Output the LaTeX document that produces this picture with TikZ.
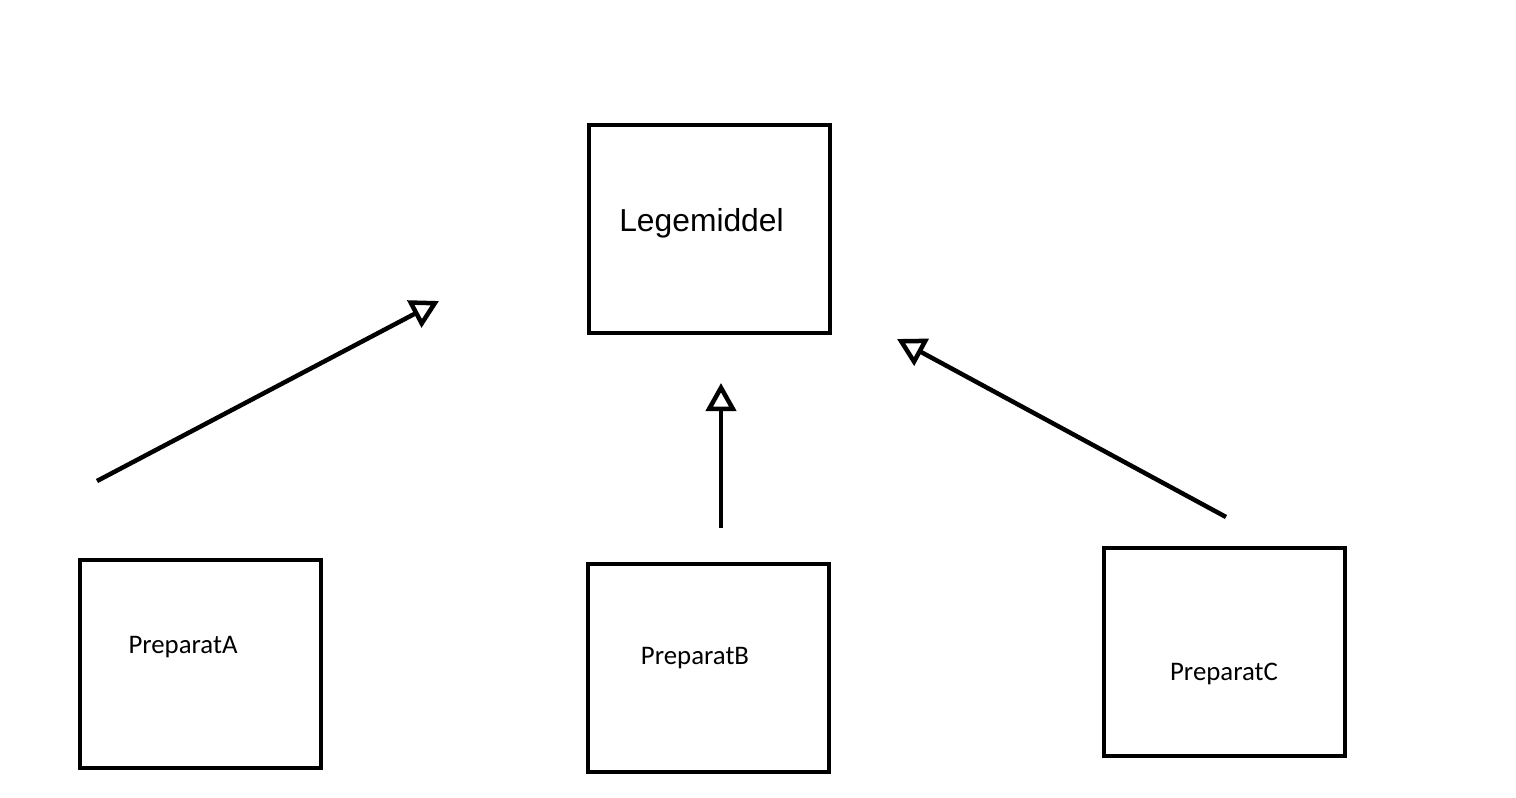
\documentclass[tikz,border=0pt]{standalone}
\usepackage{fontspec}
\setmainfont{Liberation Sans}
\newfontfamily\calfont{Carlito}
\usetikzlibrary{arrows.meta}
\begin{document}
\begin{tikzpicture}[x=1pt,y=-1pt,
  box/.style={draw=black,line width=4.5pt,minimum width=241pt,minimum height=208pt,inner sep=0pt},
  conn/.style={draw=black,line width=4.5pt,-{Triangle[open,length=28pt,width=30pt,line width=4.5pt]},line join=round},
  lbl/.style={inner sep=0pt,font=\calfont\fontsize{26.8}{30}\selectfont},
  biglbl/.style={inner sep=0pt,font=\fontsize{31.8}{36}\selectfont}]
\useasboundingbox (0,0) rectangle (1516,798);
\node[box] (leg) at (709.5,229) {};
\node[biglbl] (legt) at (701.5,223) {Legemiddel};
\node[box] (pa) at (200.5,664) {};
\node[lbl] (pat) at (183,647) {PreparatA};
\node[box] (pb) at (708.5,668) {};
\node[lbl] (pbt) at (695,658) {PreparatB};
\node[box] (pc) at (1224.5,652) {};
\node[lbl] (pct) at (1224,674) {PreparatC};
\coordinate (a1) at (97,481);
\coordinate (a2) at (439,301);
\coordinate (b1) at (721,528);
\coordinate (b2) at (721,383);
\coordinate (c1) at (1226,517);
\coordinate (c2) at (897,339);
\draw[conn] (a1) -- (a2);
\draw[conn] (b1) -- (b2);
\draw[conn] (c1) -- (c2);
\end{tikzpicture}
\end{document}
